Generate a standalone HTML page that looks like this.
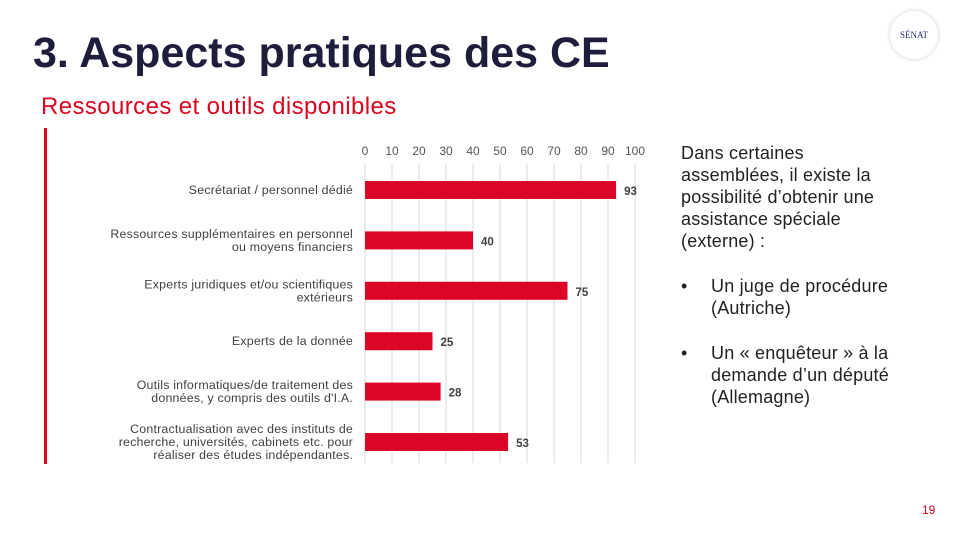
<!DOCTYPE html>
<html><head><meta charset="utf-8"><style>
body{margin:0;width:960px;height:540px;background:#fff;position:relative;overflow:hidden;font-family:"Liberation Sans",sans-serif}
.t{position:absolute;white-space:nowrap}
</style></head><body>
<div class="t" style="left:33px;top:29px;font-size:43px;font-weight:bold;color:#1e1e3c;letter-spacing:0px">3. Aspects pratiques des CE</div>
<div class="t" style="left:41px;top:93px;font-size:24px;color:#d9061f;letter-spacing:0.4px">Ressources et outils disponibles</div>
<div style="position:absolute;left:890px;top:11px;width:48px;height:48px;border-radius:50%;background:#fff;box-shadow:0 0 4px #ccc;text-align:center;font:9px 'Liberation Serif',serif;color:#2a3270;line-height:48px">SÉNAT</div>
<div style="position:absolute;left:44px;top:128px;width:3px;height:336px;background:#d9061f"></div>
<svg id="chart" width="960" height="540" style="position:absolute;left:0;top:0"></svg>
<div style="position:absolute;left:681px;top:142px;width:215px;font-size:18px;line-height:22px;color:#222;letter-spacing:0.2px">
<div>Dans certaines assemblées, il existe la possibilité d’obtenir une assistance spéciale (externe) :</div>
<div style="position:relative;padding-left:30px;margin-top:23px">
<span style="position:absolute;left:0">•</span>Un juge de procédure (Autriche)</div>
<div style="position:relative;padding-left:30px;margin-top:23px">
<span style="position:absolute;left:0">•</span>Un « enquêteur » à la demande d’un député (Allemagne)</div>
</div>
<div class="t" style="left:922px;top:503px;font-size:12px;color:#d9061f">19</div>
<script>
const categories=[["Secrétariat / personnel dédié"],["Ressources supplémentaires en personnel","ou moyens financiers"],["Experts juridiques et/ou scientifiques","extérieurs"],["Experts de la donnée"],["Outils informatiques/de  traitement des","données,  y compris des outils d'I.A."],["Contractualisation avec des instituts de","recherche, universités, cabinets etc. pour","réaliser des études indépendantes."]];
const values=[93,40,75,25,28,53];
const ticks=[0,10,20,30,40,50,60,70,80,90,100];
const svg=document.getElementById('chart');
const NS='http://www.w3.org/2000/svg';
const x=v=>365+v*2.7;
const y=i=>190+i*50.4;
function mk(t,a,txt){const e=document.createElementNS(NS,t);for(const k in a)e.setAttribute(k,a[k]);if(txt!=null)e.textContent=txt;svg.appendChild(e);return e;}
ticks.forEach(t=>{
 const g=mk('line',{x1:x(t),x2:x(t),y1:164,y2:463,stroke:'#d9d9d9','stroke-width':1});
 
 
 const l=mk('text',{x:x(t),y:155,'text-anchor':'middle','font-size':12,fill:'#555','font-family':'Liberation Sans'},t);
 
 
});
values.forEach((v,i)=>{
 const b=mk('rect',{x:x(0),y:y(i)-9,width:x(v)-x(0),height:18,fill:'#db0626'});
 
 
 const l=mk('text',{x:x(v)+8,y:y(i)+5,'font-size':11.5,'font-weight':'bold',fill:'#404040','font-family':'Liberation Sans'},v);
 
 
 const lines=categories[i];const lh=13;const y0=y(i)+4-(lines.length-1)*lh/2;
 lines.forEach((s,j)=>{
  const c=mk('text',{x:353,y:y0+j*lh,'text-anchor':'end','font-size':12.4,fill:'#404040','font-family':'Liberation Sans','letter-spacing':0.2},s);
  
  
 });
});
</script>
</body></html>
